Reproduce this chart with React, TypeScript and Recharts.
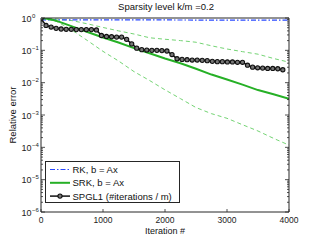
import { LineChart, Line, XAxis, YAxis } from 'recharts'

const FONT = '"Liberation Sans", Arial, sans-serif'
const AXIS = '#262626'
const BLUE = '#2848ff'
const GREEN = '#26b026'
const LIGHT_GREEN = '#74d474'

// iteration grids
const rkIter = [0, 1000, 2000, 3000, 4000]
const srkIter = [0, 100, 200, 300, 400, 500, 750, 1000, 1250, 1500, 1750, 2000, 2250, 2500, 2750, 3000, 3250, 3500, 3750, 4000]
const boundIter = [0, 250, 500, 750, 1000, 1250, 1500, 1750, 2000, 2250, 2500, 2750, 3000, 3250, 3500, 3750, 4000]
const spglIter = [
    0, 81, 163, 244, 325, 406, 488, 569, 650, 731, 813, 894, 975, 1056, 1138, 1219, 1300,
    1381, 1463, 1544, 1625, 1706, 1788, 1869, 1950, 2031, 2113, 2194, 2275, 2356, 2438, 2519,
    2600, 2681, 2763, 2844, 2925, 3006, 3088, 3169, 3250, 3331, 3413, 3494, 3575, 3656, 3738,
    3819, 3900,
]

// relative errors
const rkErr = [0.88, 0.87, 0.87, 0.86, 0.86]
const srkErr = [1, 0.955, 0.87, 0.76, 0.645, 0.55, 0.37, 0.25, 0.174, 0.117, 0.081, 0.056, 0.04, 0.027, 0.0178, 0.0126, 0.0087, 0.0059, 0.0044, 0.0032]
const srkUpper = [1, 0.93, 0.83, 0.66, 0.51, 0.4, 0.32, 0.245, 0.22, 0.2, 0.178, 0.138, 0.11, 0.091, 0.076, 0.056, 0.043]
const srkLower = [1, 0.79, 0.42, 0.2, 0.093, 0.047, 0.022, 0.0117, 0.006, 0.0032, 0.0017, 0.0011, 0.00079, 0.0005, 0.00032, 0.00019, 0.000117]
const spglErr = [
    0.955, 0.589, 0.525, 0.479, 0.457, 0.447, 0.447, 0.437, 0.437, 0.437, 0.437, 0.427, 0.288,
    0.269, 0.263, 0.257, 0.257, 0.219, 0.158, 0.117, 0.105, 0.102, 0.1, 0.1, 0.098, 0.0955,
    0.074, 0.055, 0.0525, 0.0513, 0.0501, 0.0501, 0.049, 0.0479, 0.0457, 0.0447, 0.0447,
    0.0437, 0.0437, 0.0427, 0.0427, 0.0347, 0.0302, 0.0288, 0.0282, 0.0275, 0.0275, 0.0269,
    0.0251,
]

// ticks
const xTicks = [0, 1000, 2000, 3000, 4000]
const yMajor = [1, 0.1, 0.01, 0.001, 1e-4, 1e-5, 1e-6]
const minorFactors = [2, 3, 4, 5, 6, 7, 8, 9]
const yTicks = [...yMajor, ...yMajor.slice(1).flatMap(m => minorFactors.map(f => f * m))]

const toRows = (xs: number[], ys: number[]) => xs.map((it, i) => ({ it, v: ys[i] }))

const isMajor = (v: number) => yMajor.some(m => Math.abs(v - m) < m * 1e-6)

function LeftTick({ x, y, payload }: any) {
    const v = payload.value
    const major = isMajor(v)
    const exp = Math.round(Math.log10(v))
    return (
        <g>
            <line x1={x} x2={x + (major ? 4 : 2)} y1={y} y2={y} stroke={AXIS} strokeWidth={0.8} />
            {major && (
                <text fontFamily={FONT} fill="#222">
                    <tspan x={x - 9.5} y={y + 3.5} fontSize={9} textAnchor="end">10</tspan>
                    <tspan x={x - 9} y={y - 0.5} fontSize={6}>{exp === 0 ? '0' : `\u2212${-exp}`}</tspan>
                </text>
            )}
        </g>
    )
}

function RightTick({ x, y, payload }: any) {
    const major = isMajor(payload.value)
    return <line x1={x} x2={x - (major ? 4 : 2)} y1={y} y2={y} stroke={AXIS} strokeWidth={0.8} />
}

function BottomTick({ x, y, payload }: any) {
    return (
        <g>
            <line x1={x} x2={x} y1={y} y2={y - 3} stroke={AXIS} strokeWidth={0.8} />
            <text x={x} y={y + 11} textAnchor="middle" fontSize={8.5} fontFamily={FONT} fill="#222">
                {payload.value}
            </text>
        </g>
    )
}

function TopTick({ x, y }: any) {
    return <line x1={x} x2={x} y1={y} y2={y + 3} stroke={AXIS} strokeWidth={0.8} />
}

const legendItems = [
    { label: 'RK, b = Ax', color: BLUE, width: 1.2, dash: '5 2 1.5 2', dot: false },
    { label: 'SRK, b = Ax', color: GREEN, width: 2, dash: undefined, dot: false },
    { label: 'SPGL1 (#iterations / m)', color: '#111', width: 1.5, dash: undefined, dot: true },
]

function LegendBox() {
    return (
        <svg width={137} height={44} style={{ position: 'absolute', left: 44, top: 160 }}>
            <rect x={1.5} y={1.5} width={134} height={41} fill="#fff" stroke={AXIS} strokeWidth={1} />
            {legendItems.map((item, i) => {
                const cy = 9.5 + i * 13.3
                return (
                    <g key={item.label}>
                        <line x1={6} x2={26} y1={cy} y2={cy} stroke={item.color} strokeWidth={item.width} strokeDasharray={item.dash} />
                        {item.dot && <circle cx={16} cy={cy} r={2.1} fill="#777" stroke="#111" strokeWidth={1.1} />}
                        <text x={28.5} y={cy + 3.5} fontSize={9.5} fontFamily={FONT} fill="#111">{item.label}</text>
                    </g>
                )
            })}
        </svg>
    )
}

export default function App() {
    return (
        <div style={{ position: 'absolute', left: 0, top: 0, width: 320, height: 241, background: '#fff' }}>
            <LineChart width={320} height={241} margin={{ top: 0, right: 0, bottom: 0, left: 0 }}>
                <XAxis
                    dataKey="it"
                    type="number"
                    domain={[0, 4000]}
                    ticks={xTicks}
                    interval={0}
                    height={29}
                    tickSize={0}
                    tickMargin={0}
                    tickLine={false}
                    axisLine={{ stroke: AXIS }}
                    tick={<BottomTick />}
                    allowDataOverflow
                />
                <XAxis
                    xAxisId="top"
                    orientation="top"
                    type="number"
                    domain={[0, 4000]}
                    ticks={xTicks}
                    interval={0}
                    height={18}
                    tickSize={0}
                    tickMargin={0}
                    tickLine={false}
                    axisLine={{ stroke: AXIS }}
                    tick={<TopTick />}
                    allowDataOverflow
                />
                <YAxis
                    type="number"
                    scale="log"
                    domain={[1e-6, 1]}
                    ticks={yTicks}
                    interval={0}
                    width={41}
                    tickSize={0}
                    tickMargin={0}
                    tickLine={false}
                    axisLine={{ stroke: AXIS }}
                    tick={<LeftTick />}
                    allowDataOverflow
                />
                <YAxis
                    yAxisId="right"
                    orientation="right"
                    type="number"
                    scale="log"
                    domain={[1e-6, 1]}
                    ticks={yTicks}
                    interval={0}
                    width={31}
                    tickSize={0}
                    tickMargin={0}
                    tickLine={false}
                    axisLine={{ stroke: AXIS }}
                    tick={<RightTick />}
                    allowDataOverflow
                />
                <Line data={toRows(boundIter, srkUpper)} dataKey="v" stroke={LIGHT_GREEN} strokeWidth={1} strokeDasharray="4 3" dot={false} isAnimationActive={false} />
                <Line data={toRows(boundIter, srkLower)} dataKey="v" stroke={LIGHT_GREEN} strokeWidth={1} strokeDasharray="4 3" dot={false} isAnimationActive={false} />
                <Line data={toRows(rkIter, rkErr)} dataKey="v" stroke={BLUE} strokeWidth={1.2} strokeDasharray="5 2 1.5 2" dot={false} isAnimationActive={false} />
                <Line data={toRows(srkIter, srkErr)} dataKey="v" stroke={GREEN} strokeWidth={2} dot={false} isAnimationActive={false} />
                <Line
                    data={toRows(spglIter, spglErr)}
                    dataKey="v"
                    stroke="#111"
                    strokeWidth={1.5}
                    dot={{ r: 2.1, fill: '#777', stroke: '#111', strokeWidth: 1.1 }}
                    isAnimationActive={false}
                />
            </LineChart>
            <div style={{ position: 'absolute', left: 0, width: 332, top: 0, textAlign: 'center', fontFamily: FONT, fontSize: 9.5, color: '#111', lineHeight: '13px' }}>
                Sparsity level k/m =0.2
            </div>
            <div style={{ position: 'absolute', left: 90, width: 150, top: 225, textAlign: 'center', fontFamily: FONT, fontSize: 9, color: '#111', lineHeight: '12px' }}>
                Iteration #
            </div>
            <div
                style={{
                    position: 'absolute', left: 12.5 - 50, top: 115 - 6, width: 100, height: 12, lineHeight: '12px',
                    textAlign: 'center', fontFamily: FONT, fontSize: 9.5, color: '#111', transform: 'rotate(-90deg)',
                }}
            >
                Relative error
            </div>
            <LegendBox />
        </div>
    )
}
